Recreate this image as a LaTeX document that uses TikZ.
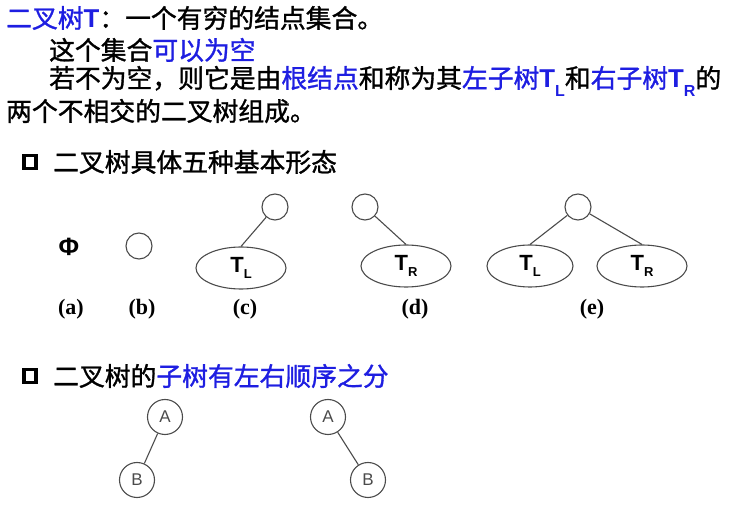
\documentclass[tikz,border=0pt]{standalone}
\usepackage{fontspec}
\usetikzlibrary{shapes.geometric}
\setmainfont{Liberation Serif}
\newfontfamily\cjk{Noto Sans CJK SC}[FakeBold=1.2]
\newfontfamily\arialb{Liberation Sans}[BoldFont=* Bold]
\definecolor{tblue}{RGB}{30,30,225}
\definecolor{lgray}{RGB}{75,75,75}
\newcommand{\TL}{{\arialb\bfseries T\raisebox{-0.32em}{\fontsize{16}{16}\selectfont L}}}
\newcommand{\TR}{{\arialb\bfseries T\raisebox{-0.32em}{\fontsize{16}{16}\selectfont R}}}
\newcommand{\TLs}{{\arialb\bfseries\fontsize{22}{22}\selectfont T\raisebox{-0.3em}{\fontsize{13}{13}\selectfont L}}}
\newcommand{\TRs}{{\arialb\bfseries\fontsize{22}{22}\selectfont T\raisebox{-0.3em}{\fontsize{13}{13}\selectfont R}}}
\begin{document}
\begin{tikzpicture}[x=1pt,y=-1pt,
  txt/.style={anchor=west,inner sep=0pt,font=\cjk\fontsize{25.8}{30}\selectfont},
  bullet/.style={draw=black,line width=3.4pt,minimum width=12pt,minimum height=13pt,inner sep=0pt},
  smallc/.style={circle,draw=lgray,line width=1.1pt,minimum size=26pt,inner sep=0pt},
  sub/.style={ellipse,draw=lgray,line width=1.1pt,minimum width=90pt,minimum height=42pt,inner sep=0pt},
  lab/.style={font=\bfseries\fontsize{22}{22}\selectfont,inner sep=0pt},
  letc/.style={circle,draw=lgray,line width=1.1pt,minimum size=35pt,inner sep=0pt,text=lgray,font=\arialb\fontsize{17}{17}\selectfont},
  conn/.style={draw=lgray,line width=1.1pt}]
\useasboundingbox (0,0) rectangle (756,518);
% text block
\node[txt] (l1) at (6,18) {\textcolor{tblue}{二叉树{\arialb\bfseries T}}：一个有穷的结点集合。};
\node[txt] (l2) at (49,50) {这个集合\textcolor{tblue}{可以为空}};
\node[txt] (l3) at (49,81) {若不为空，则它是由\textcolor{tblue}{根结点}和称为其\textcolor{tblue}{左子树\TL}和\textcolor{tblue}{右子树\TR}的};
\node[txt] (l4) at (6,111) {两个不相交的二叉树组成。};
% section 1
\node[bullet] (b1) at (30,162) {};
\node[txt] (h1) at (53,162) {二叉树具体五种基本形态};
% (a)
\node[font=\arialb\bfseries\fontsize{25}{25}\selectfont,inner sep=0pt] (phi) at (69,247) {Φ};
% (b)
\node[smallc] (bc) at (139,246) {};
% (c)
\node[smallc] (cc) at (275,207) {};
\node[sub,inner sep=0pt] (ce) at (241,268) {\raisebox{-4pt}{\TLs}};
\draw[conn] (cc) -- (ce.north);
% (d)
\node[smallc] (dc) at (365,207) {};
\node[sub] (de) at (406,266) {\raisebox{-4pt}{\TRs}};
\draw[conn] (dc) -- (de.north);
% (e)
\node[smallc] (ec) at (578,207) {};
\node[sub,minimum width=86pt] (el) at (530,266) {\raisebox{-4pt}{\TLs}};
\node[sub] (er) at (642,266) {\raisebox{-4pt}{\TRs}};
\draw[conn] (ec) -- (el.north);
\draw[conn] (ec) -- (er.north);
% labels
\node[lab] (la) at (71,309) {(a)};
\node[lab] (lb) at (142,309) {(b)};
\node[lab] (lc) at (245,309) {(c)};
\node[lab] (ld) at (415,309) {(d)};
\node[lab] (le) at (592,309) {(e)};
% section 2
\node[bullet] (b2) at (30,376) {};
\node[txt] (h2) at (53,376) {二叉树的\textcolor{tblue}{子树有左右顺序之分}};
\node[letc] (a1) at (165,417) {A};
\node[letc] (bb1) at (137,480) {B};
\draw[conn] (a1) -- (bb1);
\node[letc] (a2) at (328,417) {A};
\node[letc] (bb2) at (368,480) {B};
\draw[conn] (a2) -- (bb2);
\end{tikzpicture}
\end{document}
